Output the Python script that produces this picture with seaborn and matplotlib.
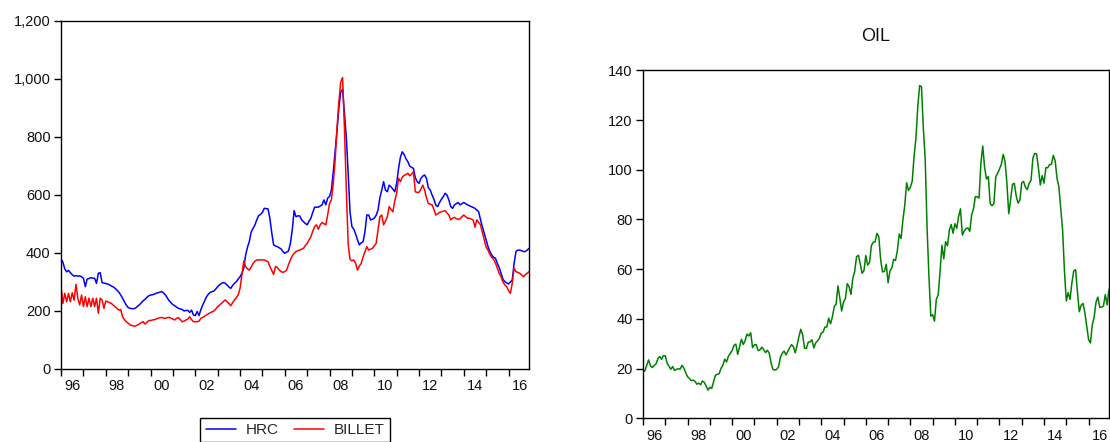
import matplotlib

matplotlib.use("Agg")
import matplotlib.pyplot as plt
import matplotlib.ticker as mticker
import numpy as np
import pandas as pd
import seaborn as sns

# monthly series, Jan 1996 - Dec 2016
hrc = [
    380, 368, 345, 335, 340, 332, 325, 320, 322, 320, 321, 318,
    313, 284, 310, 312, 315, 313, 313, 295, 330, 332, 298, 296,
    295, 293, 290, 286, 283, 278, 272, 265, 255, 244, 232, 220,
    212, 209, 208, 208, 210, 216, 221, 228, 235, 240, 247, 252,
    255, 256, 258, 261, 263, 265, 267, 262, 255, 245, 235, 228,
    222, 218, 213, 209, 207, 205, 200, 202, 202, 195, 203, 186,
    184, 198, 184, 205, 221, 235, 249, 258, 264, 267, 269, 276,
    284, 290, 295, 298, 296, 290, 283, 278, 288, 295, 301, 310,
    318, 330, 347, 393, 420, 440, 473, 485, 497, 515, 529, 533,
    540, 554, 553, 552, 520, 470, 428, 424, 422, 418, 414, 405,
    399, 403, 407, 433, 479, 546, 525, 528, 528, 515, 508, 502,
    497, 510, 520, 540, 558, 558, 558, 562, 566, 583, 566, 589,
    595, 617, 680, 750, 820, 900, 955, 964, 880, 800, 675, 540,
    491, 482, 465, 445, 428, 435, 439, 473, 531, 531, 514, 516,
    520, 530, 548, 590, 617, 646, 617, 611, 634, 628, 620, 611,
    640, 690, 730, 749, 740, 725, 715, 700, 695, 692, 660, 646,
    640, 657, 665, 669, 657, 625, 617, 600, 585, 565, 560, 574,
    585, 594, 606, 600, 583, 560, 554, 566, 570, 574, 566, 570,
    574, 570, 566, 563, 560, 557, 554, 548, 542, 514, 490, 468,
    445, 422, 405, 393, 385, 382, 364, 350, 330, 310, 301, 297,
    293, 300, 307, 364, 405, 410, 410, 408, 405, 405, 410, 416,
]

billet = [
    284, 226, 261, 232, 261, 232, 263, 237, 292, 243, 221, 255,
    215, 249, 215, 244, 215, 244, 215, 244, 192, 244, 238, 209,
    234, 232, 229, 226, 220, 215, 209, 203, 205, 180, 170, 163,
    158, 152, 150, 148, 148, 152, 155, 160, 163, 155, 160, 167,
    167, 169, 170, 172, 175, 176, 178, 175, 175, 177, 178, 175,
    172, 169, 175, 177, 170, 163, 165, 169, 172, 180, 170, 163,
    163, 163, 165, 175, 178, 182, 186, 190, 194, 197, 200, 207,
    215, 220, 226, 232, 238, 232, 226, 218, 228, 238, 246, 255,
    278, 324, 372, 353, 345, 341, 352, 364, 372, 376, 376, 376,
    376, 376, 373, 370, 353, 340, 326, 353, 350, 341, 336, 333,
    336, 341, 360, 376, 390, 399, 405, 408, 410, 413, 416, 425,
    433, 445, 456, 475, 491, 497, 482, 497, 505, 501, 497, 531,
    571, 583, 640, 720, 830, 920, 990, 1005, 830, 620, 430, 378,
    373, 376, 364, 341, 355, 364, 387, 405, 422, 410, 413, 416,
    425, 433, 480, 525, 531, 497, 510, 525, 560, 550, 542, 580,
    606, 658, 646, 661, 668, 670, 675, 666, 672, 680, 611, 609,
    609, 620, 634, 617, 590, 571, 568, 566, 550, 531, 535, 540,
    542, 544, 546, 538, 531, 514, 520, 523, 518, 516, 518, 525,
    531, 525, 520, 520, 517, 514, 489, 514, 505, 497, 470, 445,
    420, 410, 395, 385, 378, 365, 347, 330, 318, 300, 290, 284,
    270, 261, 296, 347, 336, 333, 330, 325, 318, 325, 330, 336,
]

oil = [
    18.86, 19.09, 21.33, 23.50, 21.17, 20.42, 21.30, 21.90, 23.97, 24.88, 23.71, 25.23,
    25.13, 22.18, 20.97, 19.70, 20.82, 19.26, 19.66, 19.95, 19.80, 21.33, 20.19, 18.33,
    16.72, 16.06, 15.12, 15.35, 14.91, 13.72, 14.17, 13.47, 15.03, 14.46, 13.00, 11.35,
    12.52, 12.01, 14.68, 17.31, 17.72, 17.92, 20.10, 21.28, 23.80, 22.69, 25.00, 26.10,
    27.26, 29.37, 29.84, 25.72, 28.79, 31.82, 29.70, 31.26, 33.88, 33.11, 34.42, 28.44,
    29.59, 29.61, 27.24, 27.49, 28.63, 27.60, 26.42, 27.37, 26.20, 22.17, 19.64, 19.39,
    19.72, 20.72, 24.53, 26.18, 27.04, 25.52, 26.97, 28.39, 29.66, 28.84, 26.35, 29.46,
    32.95, 35.83, 33.51, 28.17, 28.11, 30.66, 30.76, 31.57, 28.31, 30.34, 31.11, 32.13,
    34.31, 34.69, 36.74, 36.75, 40.28, 38.03, 40.78, 44.90, 45.94, 53.28, 48.47, 43.15,
    46.84, 48.15, 54.19, 52.98, 49.83, 56.35, 59.00, 64.99, 65.59, 62.26, 58.32, 59.41,
    65.49, 61.63, 62.69, 69.44, 70.84, 70.95, 74.41, 73.04, 63.80, 58.89, 59.08, 61.96,
    54.51, 59.28, 60.44, 63.98, 63.46, 67.49, 74.12, 72.36, 79.92, 85.80, 94.77, 91.69,
    92.97, 95.39, 105.45, 112.58, 125.40, 133.88, 133.37, 116.67, 104.11, 76.61, 57.31, 41.12,
    41.71, 39.09, 47.94, 49.65, 59.03, 69.64, 64.15, 71.05, 69.41, 75.72, 77.99, 74.47,
    78.33, 76.39, 81.20, 84.29, 73.74, 75.34, 76.32, 76.60, 75.24, 81.89, 84.25, 89.15,
    89.17, 88.58, 102.86, 109.53, 100.90, 96.26, 97.30, 86.33, 85.52, 86.32, 97.16, 98.56,
    100.27, 102.20, 106.16, 103.32, 94.66, 82.30, 87.90, 94.13, 94.51, 89.49, 86.53, 87.86,
    94.76, 95.31, 92.94, 92.02, 94.51, 95.77, 104.67, 106.57, 106.29, 100.54, 93.86, 97.63,
    94.62, 100.82, 100.80, 102.07, 102.18, 105.79, 103.59, 96.54, 93.21, 84.40, 75.79, 59.29,
    47.22, 50.58, 47.82, 54.45, 59.27, 59.82, 50.90, 42.87, 45.48, 46.22, 42.44, 37.19,
    31.68, 30.32, 37.55, 40.75, 46.71, 48.76, 44.65, 44.72, 45.18, 49.78, 45.66, 51.97,
]

dates = pd.date_range("1996-01-01", periods=len(hrc), freq="MS")
year_labels = ["96", "98", "00", "02", "04", "06", "08", "10", "12", "14", "16"]

sns.set_theme(style="ticks")
plt.rcParams["font.family"] = ["Liberation Sans", "DejaVu Sans"]

t = dates.year + (dates.month - 1) / 12
df = pd.DataFrame({"t": t, "HRC": hrc, "BILLET": billet, "OIL": oil})
steel = df.melt(id_vars="t", value_vars=["HRC", "BILLET"], var_name="series", value_name="value")

fig = plt.figure(figsize=(11.1, 4.42), dpi=100)
ax1 = fig.add_axes([0.0550, 0.1652, 0.4216, 0.7873])
ax2 = fig.add_axes([0.5793, 0.0536, 0.4198, 0.7873])

sns.lineplot(data=steel, x="t", y="value", hue="series",
             palette={"HRC": "#0000ff", "BILLET": "#ff0000"},
             linewidth=1.1, ax=ax1)
sns.lineplot(data=df, x="t", y="OIL", color="#008000", linewidth=1.1, ax=ax2)


def style_axis(ax, ymax, ystep, comma):
    ax.set_xlim(t[0], t[-1])
    ax.set_ylim(0, ymax)
    ax.set_xlabel("")
    ax.set_ylabel("")
    ax.yaxis.set_major_locator(mticker.MultipleLocator(ystep))
    if comma:
        ax.yaxis.set_major_formatter(mticker.StrMethodFormatter("{x:,.0f}"))
    years = np.arange(1996, 2017)
    ax.set_xticks(years)
    ax.set_xticklabels([""] * len(years))
    ax.set_xticks(np.arange(1996, 2017, 2) + 0.5, minor=True)
    ax.set_xticklabels(year_labels, minor=True)
    ax.tick_params(axis="x", which="major", direction="out", length=5, width=1, color="black")
    ax.tick_params(axis="x", which="minor", length=0, pad=7.5, labelsize=10.5, labelcolor="#111111")
    ax.tick_params(axis="y", direction="out", length=5, width=1, pad=2.5,
                   labelsize=10.5, labelcolor="#111111", color="black")
    for side in ["left", "right", "top", "bottom"]:
        ax.spines[side].set_visible(True)
        ax.spines[side].set_color("black")
        ax.spines[side].set_linewidth(1.0)


style_axis(ax1, 1200, 200, True)
style_axis(ax2, 140, 20, False)

ax2.set_title("OIL", fontsize=13, pad=21, color="#111111")

handles, labels = ax1.get_legend_handles_labels()
leg = ax1.legend(handles, labels, loc="upper center", bbox_to_anchor=(0.5, -0.14),
                 borderaxespad=0, ncol=2, frameon=True, fancybox=False, edgecolor="black",
                 framealpha=1, fontsize=11, handlelength=2.0, handletextpad=0.6,
                 columnspacing=1.0, borderpad=0.35)
leg.get_frame().set_linewidth(1.0)

fig.savefig("out.png", dpi=100)
